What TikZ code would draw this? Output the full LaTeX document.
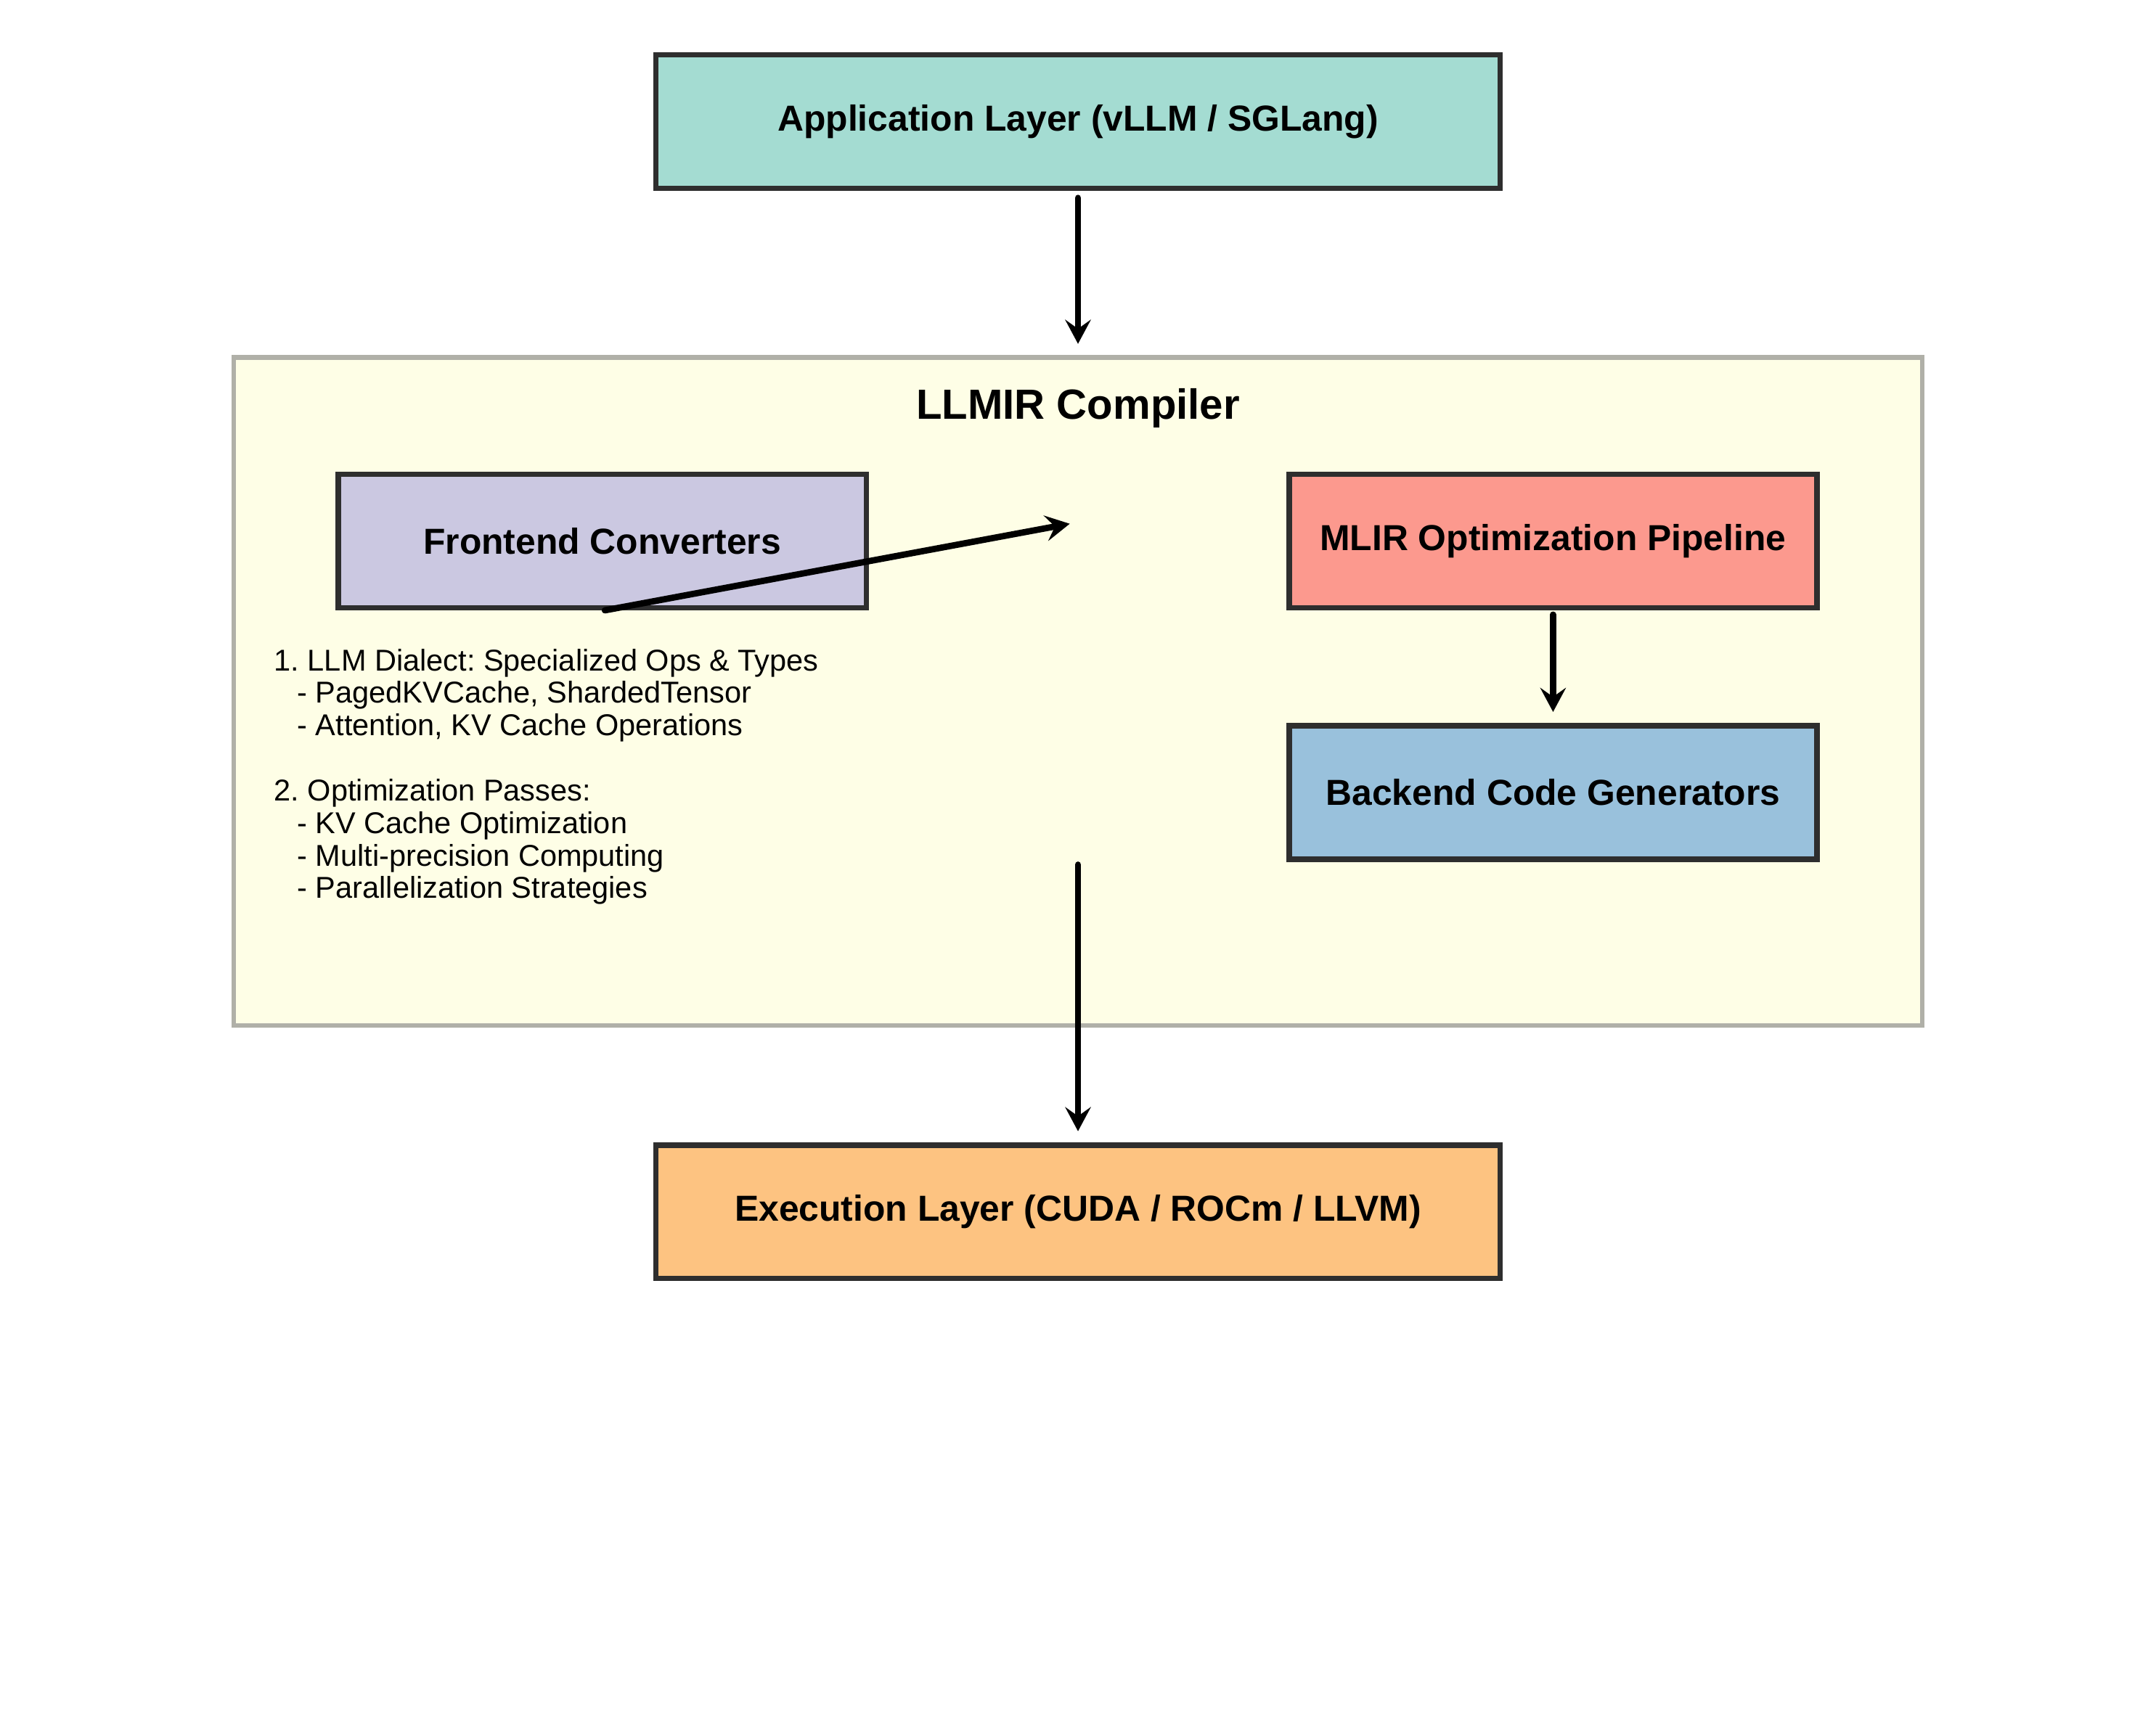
\documentclass[tikz,border=0pt]{standalone}
\usepackage{fontspec}
\setmainfont{Liberation Sans}
\usetikzlibrary{arrows.meta}

\definecolor{edgecol}{HTML}{2E2E2E}
\definecolor{appcol}{HTML}{A4DCD2}
\definecolor{frontcol}{HTML}{CBC8E1}
\definecolor{mlircol}{HTML}{FC998E}
\definecolor{backcol}{HTML}{99C1DC}
\definecolor{execcol}{HTML}{FDC381}
\definecolor{compfill}{HTML}{FEFEE6}
\definecolor{compedge}{HTML}{B0B0A8}

\begin{document}
\frenchspacing
\begin{tikzpicture}[x=0.016037cm, y=-0.016037cm,
  layer/.style={draw=edgecol, line width=1.8pt, fill=#1,
    minimum width=9.847cm, minimum height=1.556cm,
    font=\bfseries\fontsize{12}{14}\selectfont},
  stage/.style={layer=#1, minimum width=6.158cm},
  flow/.style={-{Stealth[length=8pt,width=8.5pt,inset=3pt]},
    line width=2.1pt, line cap=round},
  notes/.style={align=left, inner sep=0pt,
    font=\fontsize{10}{10.8}\selectfont}]

  % Fix the canvas
  \fill[white] (0,0) rectangle (1568,1251);
  \useasboundingbox (0,0) rectangle (1568,1251);

  % Compiler frame and its title
  \node[draw=compedge, line width=1.6pt, fill=compfill,
    minimum width=19.694cm, minimum height=7.794cm] (compiler) at (784,503) {};
  \node[font=\bfseries\fontsize{14}{16}\selectfont] (title) at (784,297) {LLMIR Compiler};

  % Outer layers
  \node[layer=appcol] (app) at (784,88.5) {Application Layer (vLLM / SGLang)};
  \node[layer=execcol] (exec) at (784,881.5) {Execution Layer (CUDA / ROCm / LLVM)};

  % Compiler stages
  \node[stage=frontcol] (front) at (438,393.5) {Frontend Converters};
  \node[stage=mlircol] (mlir) at (1129.5,393.5) {MLIR Optimization Pipeline};
  \node[stage=backcol] (back) at (1129.5,576.5) {Backend Code Generators};

  % Dialect and passes list
  \node[notes, anchor=north west] (list) at (199,471.5) {%
    1. LLM Dialect: Specialized Ops \& Types\\
    \hspace*{0.27cm}- PagedKVCache, ShardedTensor\\
    \hspace*{0.27cm}- Attention, KV Cache Operations\\
    \mbox{}\\
    2. Optimization Passes:\\
    \hspace*{0.27cm}- KV Cache Optimization\\
    \hspace*{0.27cm}- Multi-precision Computing\\
    \hspace*{0.27cm}- Parallelization Strategies};

  % Free ends of the inner arrows
  \coordinate (mid) at (778,381);
  \coordinate (codegen) at (784,629);

  % Arrows
  \draw[flow, shorten <=0.08cm, shorten >=0.13cm] (app.south) -- (compiler.north);
  \draw[flow] ([xshift=0.03cm]front.south) -- (mid);
  \draw[flow, shorten <=0.05cm, shorten >=0.13cm] (mlir.south) -- (back.north);
  \draw[flow, shorten >=0.13cm] (codegen) -- (exec.north);

\end{tikzpicture}
\end{document}
